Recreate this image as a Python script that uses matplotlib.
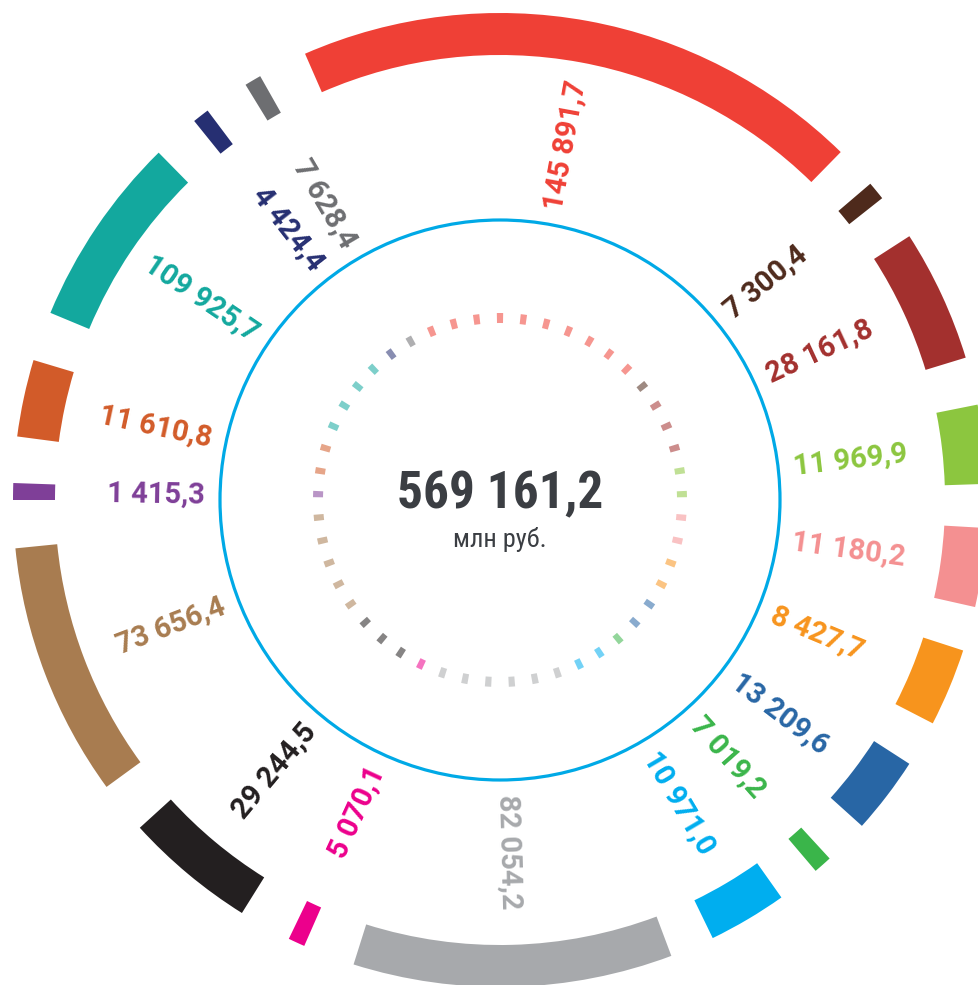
import numpy as np
import matplotlib
matplotlib.use("Agg")
import matplotlib.pyplot as plt
import matplotlib.colors as mcolors
from matplotlib.patches import Circle

plt.rcParams['font.family'] = ['Roboto', 'DejaVu Sans']
CENTER_FONT = ['Roboto Condensed', 'Roboto', 'DejaVu Sans']

## data, mln rub ##
values = [145891.7, 7300.4, 28161.8, 11969.9, 11180.2, 8427.7, 13209.6, 7019.2,
          10971.0, 82054.2, 5070.1, 29244.5, 73656.4, 1415.3, 11610.8, 109925.7,
          4424.4, 7628.4]
total = 569161.2
unit = "млн руб."

colors = ["#ef4036", "#4e2a1c", "#a3302e", "#8cc63f", "#f49091", "#f7941d",
          "#2866a5", "#3ab54a", "#00aeef", "#a7a9ac", "#ec008c", "#231f20",
          "#a87c50", "#7f3f98", "#d25b29", "#13a89e", "#262f72", "#6d6e71"]

## layout: where each arc starts (deg, clockwise from top) and how long it is ##
arc_start = [336.4, 49.5, 57.2, 78.7, 93.3, 108.0, 122.8, 137.4, 144.7, 159.4,
             203.7, 212.0, 233.9, 270.0, 277.5, 292.6, 321.1, 328.5]
arc_span = [68.0, 2.2, 15.8, 9.4, 9.4, 9.3, 9.2, 2.2, 9.4, 38.1, 2.0, 15.7,
            30.4, 2.0, 9.2, 22.9, 2.0, 2.0]

W, H = 979, 985
CX, CY = 500, 500      # centre of the ring, px from top-left
R = 500                # 1 data unit = 1 px
RING_IN, RING_W = 445, 42
LABEL_R = 295
CIRCLE_R = 280
DASH_R, DASH_LEN, N_DASH = 177, 10, 49


def fmt(v):
    return f"{v:,.1f}".replace(",", " ").replace(".", ",")


def pale(c, k=0.5):
    rgb = np.array(mcolors.to_rgb(c))
    return tuple(rgb * k + (1 - k))


def nearest_segment(a):
    best, best_d = 0, 1e9
    for i, (s, w) in enumerate(zip(arc_start, arc_span)):
        off = (a - s) % 360
        d = 0 if off <= w else min(off - w, 360 - off)
        if d < best_d:
            best, best_d = i, d
    return best


fig = plt.figure(figsize=(W / 100, H / 100), dpi=100)
fig.patch.set_facecolor("white")
ax = fig.add_axes([(CX - R) / W, (H - CY - R) / H, 2 * R / W, 2 * R / H],
                  projection="polar")
ax.set_theta_zero_location("N")
ax.set_theta_direction(-1)
ax.set_ylim(0, R)
ax.axis("off")
ax.patch.set_alpha(0)

# outer ring
mid = (np.array(arc_start) + np.array(arc_span) / 2) % 360
ax.bar(np.deg2rad(mid), RING_W, width=np.deg2rad(arc_span), bottom=RING_IN,
       color=colors, linewidth=0)

# value labels, running along the radius
for v, a, c in zip(values, mid, colors):
    if a < 180:
        rot, ha = 90 - a, "left"
    else:
        rot, ha = 270 - a, "right"
    ax.text(np.deg2rad(a), LABEL_R, fmt(v), color=c, fontsize=21,
            fontweight="bold", rotation=rot, rotation_mode="anchor",
            ha=ha, va="center")

# blue circle
ax.add_patch(Circle((0.5, 0.5), CIRCLE_R / (2 * R), transform=ax.transAxes,
                    fill=False, edgecolor="#00a9e6", lw=2.3))

# inner dashed ring, coloured after the nearest segment
dash_deg = np.arange(N_DASH) * 360 / N_DASH
dash_col = [pale(colors[nearest_segment(a)], 0.55) for a in dash_deg]
ax.bar(np.deg2rad(dash_deg), DASH_LEN, width=6 / DASH_R, bottom=DASH_R,
       color=dash_col, linewidth=0)

# total in the middle
ax.text(0.5, 0.492, fmt(total), transform=ax.transAxes, ha="center",
        va="baseline", fontsize=37, fontweight="bold", color="#3b3e43",
        family=CENTER_FONT)
ax.text(0.5, 0.453, unit, transform=ax.transAxes, ha="center",
        va="baseline", fontsize=19, color="#3b3e43", family=CENTER_FONT)

fig.savefig("out.png", dpi=100, facecolor="white")
